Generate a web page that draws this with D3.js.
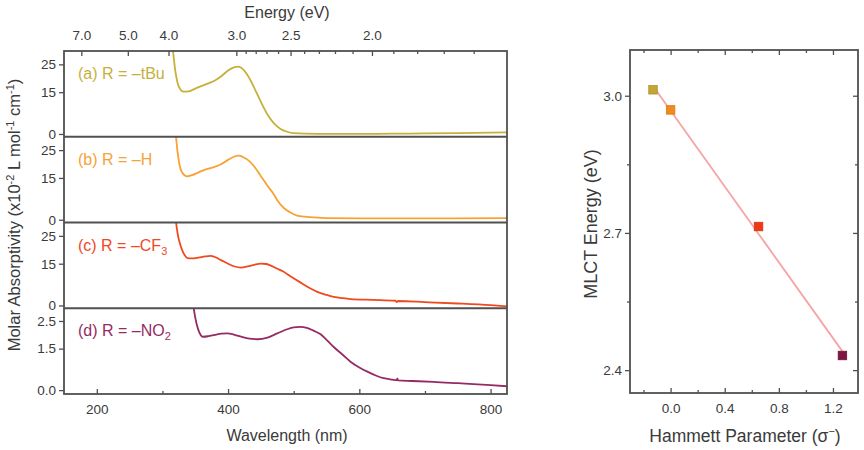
<!DOCTYPE html>
<html><head><meta charset="utf-8">
<script src="https://cdn.jsdelivr.net/npm/d3@7"></script>
<style>body{margin:0;background:#fff;} svg{font-family:"Liberation Sans",Arial,sans-serif;}</style>
</head><body><svg id="c" width="864" height="450"></svg>
<script>
// ---------- data ----------
const wlA  = [312,316,320,325,332,340,350,360,370,380,390,400,410,415,420,430,440,450,460,470,480,490,500,520,550,600,650,700,750,800,825];
const absA = [40,30,22,17,15.2,15.3,16.3,17.3,18.2,19.2,20.8,22.8,24,24.2,23.8,21,16.5,11.5,7,3.8,1.8,0.8,0.3,0.1,0,0,0.1,0.2,0.3,0.5,0.6];
const wlB  = [318,321,325,330,338,345,355,365,377,390,400,410,416,422,430,439,449,460,470,475,485,495,505,525,550,600,700,825];
const absB = [40,29,21,17,15.6,16,17,18,18.8,20,21.5,22.7,23,22.6,21.5,19.4,16,12.2,9,7,4.2,2.6,1.5,0.9,0.6,0.5,0.5,0.6];
const wlC  = [318,320,323,327,330,334,338,345,355,365,373,380,390,400,410,419,430,440,450,458,465,475,484,495,510,525,536,550,561,575,587,620,655,657,659,700,750,800,825];
const absC = [40,32,26,22,19.9,18,17,16.9,17.2,17.6,17.8,17.4,16.2,15,14,13.6,14,14.6,15,14.9,14.3,13.2,12.2,10.5,8.3,6.2,4.9,3.8,3.1,2.6,2.3,2.0,1.7,1.2,1.6,1.2,0.7,0.1,-0.3];
const wlD  = [343,345,348,352,356,362,370,380,390,399,410,420,430,445,460,475,490,500,510,520,530,541,550,561,575,587,600,613,625,637,650,657,658,659,680,713,750,800,825];
const absD = [4,3.5,2.9,2.4,2.1,1.93,1.95,2.0,2.04,2.05,2.0,1.93,1.87,1.84,1.9,2.05,2.2,2.27,2.29,2.25,2.15,2.02,1.82,1.56,1.27,1.02,0.82,0.66,0.53,0.43,0.38,0.36,0.42,0.35,0.33,0.3,0.25,0.18,0.14];

const panelLabels = ["(a) R = \u2013tBu", "(b) R = \u2013H", "(c) R = \u2013CF", "(d) R = \u2013NO"];
const panelSubs   = ["", "", "3", "2"];
const yTicksABC = [0, 15, 25];
const yTicksD   = [0.0, 1.5, 2.5];
const wlTicks   = [200, 400, 600, 800];
const wlMinor   = [300, 500, 700];
const eTicks    = [7.0, 5.0, 4.0, 3.0, 2.5, 2.0];
const eMinor    = [2.9, 2.8, 2.7, 2.6, 2.4, 2.3, 2.2, 2.1, 1.9, 1.8, 1.7, 1.6];

const substituents = ["tBu", "H", "CF3", "NO2"];
const hammett = [-0.13, 0.0, 0.65, 1.27];
const mlct    = [3.013, 2.969, 2.714, 2.432];
const hTicks  = [0.0, 0.4, 0.8, 1.2];
const hMinor  = [-0.2, 0.2, 0.6, 1.0];
const mTicks  = [2.4, 2.7, 3.0];
const mMinor  = [2.55, 2.85];

const colors = ["#c6b03a", "#f7a236", "#f0491f", "#962a62"];
const markerColors = ["#c2a534", "#f2891a", "#ee3a14", "#7e1442"];

// ---------- setup ----------
const svg = d3.select("#c");
const axisCol = "#505050", textCol = "#3a3a3a";
const L = {x0: 64, x1: 507, top: 51, ph: 85.75};
const x = d3.scaleLinear().domain([150, 825]).range([L.x0, L.x1]);

const series = [[wlA, absA], [wlB, absB], [wlC, absC], [wlD, absD]];
const domains = [[-1, 29.8], [-1, 29.8], [-1, 29.8], [-0.14, 2.96]];

series.forEach((s, i) => {
  const top = L.top + i * L.ph;
  const y = d3.scaleLinear().domain(domains[i]).range([top + L.ph, top]);
  const g = svg.append("g");
  g.append("clipPath").attr("id", "clip" + i).append("rect")
    .attr("x", L.x0).attr("y", top).attr("width", L.x1 - L.x0).attr("height", L.ph);
  const pts = s[0].map((w, k) => [w, s[1][k]]);
  const line = d3.line().x(d => x(d[0])).y(d => y(d[1])).curve(d3.curveMonotoneX);
  g.append("path").datum(pts).attr("d", line)
    .attr("fill", "none").attr("stroke", colors[i]).attr("stroke-width", 1.8)
    .attr("clip-path", "url(#clip" + i + ")");
  // left axis
  const ticks = i < 3 ? yTicksABC : yTicksD;
  const ax = d3.axisLeft(y).tickValues(ticks).tickSize(5).tickPadding(3)
    .tickFormat(i < 3 ? d3.format("d") : d3.format(".1f"));
  const ag = svg.append("g").attr("transform", `translate(${L.x0},0)`).call(ax);
  ag.select(".domain").remove();
  ag.selectAll("line").attr("stroke", axisCol).attr("stroke-width", 1.3);
  ag.selectAll("text").attr("fill", textCol).style("font-size", "13.5px");
  // label
  const t = svg.append("text").attr("x", 78).attr("y", top + 28)
    .attr("fill", colors[i]).style("font-size", "16px").text(panelLabels[i]);
  if (panelSubs[i]) t.append("tspan").attr("dy", 4).style("font-size", "11px").text(panelSubs[i]);
});

// frame and separators
svg.append("rect").attr("x", L.x0).attr("y", L.top).attr("width", L.x1 - L.x0).attr("height", L.ph * 4)
  .attr("fill", "none").attr("stroke", axisCol).attr("stroke-width", 1.8);
for (let i = 1; i < 4; i++) {
  svg.append("line").attr("x1", L.x0).attr("x2", L.x1)
    .attr("y1", L.top + i * L.ph).attr("y2", L.top + i * L.ph)
    .attr("stroke", axisCol).attr("stroke-width", 2.2);
}
const bottom = L.top + 4 * L.ph;

// bottom axis (inward ticks)
const bx = d3.axisBottom(x).tickValues(wlTicks).tickSize(-5).tickPadding(10).tickFormat(d3.format("d"));
const bg = svg.append("g").attr("transform", `translate(0,${bottom})`).call(bx);
bg.select(".domain").remove();
bg.selectAll("line").attr("stroke", axisCol).attr("stroke-width", 1.3);
bg.selectAll("text").attr("fill", textCol).style("font-size", "13.5px");
const bm = d3.axisBottom(x).tickValues(wlMinor).tickSize(-3).tickFormat("");
const bmg = svg.append("g").attr("transform", `translate(0,${bottom})`).call(bm);
bmg.select(".domain").remove();
bmg.selectAll("line").attr("stroke", axisCol).attr("stroke-width", 1.3);

// top energy axis (position via wavelength scale, E = 1240/λ)
const eg = svg.append("g");
eTicks.forEach(e => {
  const px = x(1240 / e);
  eg.append("line").attr("x1", px).attr("x2", px).attr("y1", L.top).attr("y2", L.top + 5)
    .attr("stroke", axisCol).attr("stroke-width", 1.3);
  eg.append("text").attr("x", px).attr("y", L.top - 11).attr("text-anchor", "middle")
    .attr("fill", textCol).style("font-size", "13.5px").text(d3.format(".1f")(e));
});
eMinor.forEach(e => {
  const px = x(1240 / e);
  eg.append("line").attr("x1", px).attr("x2", px).attr("y1", L.top).attr("y2", L.top + 3)
    .attr("stroke", axisCol).attr("stroke-width", 1.3);
});
svg.append("text").attr("x", 287).attr("y", 18).attr("text-anchor", "middle")
  .attr("fill", textCol).style("font-size", "16px").text("Energy (eV)");
svg.append("text").attr("x", 287).attr("y", 441).attr("text-anchor", "middle")
  .attr("fill", textCol).style("font-size", "16px").text("Wavelength (nm)");

// left y title
const yt = svg.append("text").attr("transform", "translate(20,215) rotate(-90)")
  .attr("text-anchor", "middle").attr("fill", textCol).style("font-size", "16.5px");
yt.append("tspan").text("Molar Absorptivity (x10");
yt.append("tspan").attr("dy", -6).style("font-size", "11px").text("-2");
yt.append("tspan").attr("dy", 6).text(" L mol");
yt.append("tspan").attr("dy", -6).style("font-size", "11px").text("-1");
yt.append("tspan").attr("dy", 6).text(" cm");
yt.append("tspan").attr("dy", -6).style("font-size", "11px").text("-1");
yt.append("tspan").attr("dy", 6).text(")");

// ---------- right chart ----------
const R = {x0: 630, x1: 858, y0: 50, y1: 393};
const hx = d3.scaleLinear().domain([-0.3, 1.385]).range([R.x0, R.x1]);
const my = d3.scaleLinear().domain([2.35, 3.1]).range([R.y1, R.y0]);

// fit line (least squares)
const mx = d3.mean(hammett), mmy = d3.mean(mlct);
const slope = d3.sum(hammett.map((v, k) => (v - mx) * (mlct[k] - mmy))) / d3.sum(hammett.map(v => (v - mx) ** 2));
const icpt = mmy - slope * mx;
const xs = d3.extent(hammett);
svg.append("line").attr("x1", hx(xs[0])).attr("y1", my(icpt + slope * xs[0]))
  .attr("x2", hx(xs[1])).attr("y2", my(icpt + slope * xs[1]))
  .attr("stroke", "#f6a3a3").attr("stroke-width", 1.8);

const ms = 8.5;
hammett.forEach((h, k) => {
  svg.append("rect").attr("x", hx(h) - ms / 2).attr("y", my(mlct[k]) - ms / 2)
    .attr("width", ms).attr("height", ms).attr("fill", markerColors[k])
    .attr("stroke", d3.color(markerColors[k]).darker(0.3)).attr("stroke-width", 0.8);
});

svg.append("rect").attr("x", R.x0).attr("y", R.y0).attr("width", R.x1 - R.x0).attr("height", R.y1 - R.y0)
  .attr("fill", "none").attr("stroke", axisCol).attr("stroke-width", 1.8);

function styleAxis(g) {
  g.select(".domain").remove();
  g.selectAll("line").attr("stroke", axisCol).attr("stroke-width", 1.3);
  g.selectAll("text").attr("fill", textCol).style("font-size", "13.5px");
}
styleAxis(svg.append("g").attr("transform", `translate(0,${R.y1})`)
  .call(d3.axisBottom(hx).tickValues(hTicks).tickSize(-5).tickPadding(10).tickFormat(d3.format(".1f"))));
styleAxis(svg.append("g").attr("transform", `translate(0,${R.y1})`)
  .call(d3.axisBottom(hx).tickValues(hMinor).tickSize(-3).tickFormat("")));
styleAxis(svg.append("g").attr("transform", `translate(0,${R.y0})`)
  .call(d3.axisTop(hx).tickValues(hTicks).tickSize(-5).tickFormat("")));
styleAxis(svg.append("g").attr("transform", `translate(0,${R.y0})`)
  .call(d3.axisTop(hx).tickValues(hMinor).tickSize(-3).tickFormat("")));
styleAxis(svg.append("g").attr("transform", `translate(${R.x0},0)`)
  .call(d3.axisLeft(my).tickValues(mTicks).tickSize(5).tickPadding(3).tickFormat(d3.format(".1f"))));
styleAxis(svg.append("g").attr("transform", `translate(${R.x0},0)`)
  .call(d3.axisLeft(my).tickValues(mMinor).tickSize(3).tickFormat("")));
styleAxis(svg.append("g").attr("transform", `translate(${R.x1},0)`)
  .call(d3.axisRight(my).tickValues(mTicks).tickSize(-5).tickFormat("")));
styleAxis(svg.append("g").attr("transform", `translate(${R.x1},0)`)
  .call(d3.axisRight(my).tickValues(mMinor).tickSize(-3).tickFormat("")));

svg.append("text").attr("transform", "translate(597,224) rotate(-90)").attr("text-anchor", "middle")
  .attr("fill", textCol).style("font-size", "18px").text("MLCT Energy (eV)");
const ht = svg.append("text").attr("x", 745).attr("y", 442).attr("text-anchor", "middle")
  .attr("fill", textCol).style("font-size", "17.5px");
ht.append("tspan").text("Hammett Parameter (\u03c3");
ht.append("tspan").attr("dy", -7).style("font-size", "11px").text("\u2212");
ht.append("tspan").attr("dy", 7).text(")");
</script></body></html>
